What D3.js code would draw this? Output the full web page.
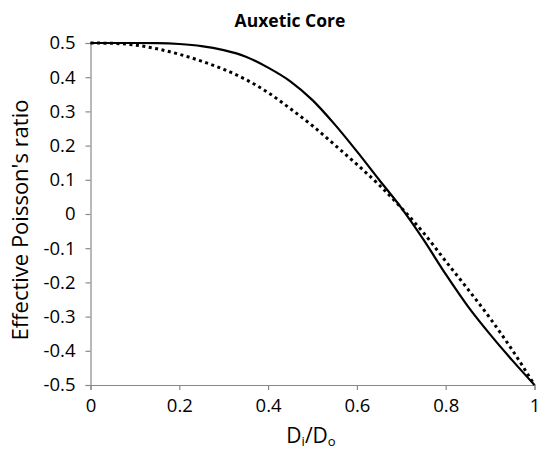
<!DOCTYPE html>
<html>
<head>
<meta charset="utf-8">
<script src="https://cdn.jsdelivr.net/npm/d3@7"></script>
<style>
  html, body { margin: 0; padding: 0; background: #fff; }
  svg { display: block; }
  text { font-family: "Open Sans", "Noto Sans", sans-serif; fill: #000; }
</style>
</head>
<body>
<svg id="chart" width="540" height="449"></svg>
<script>
// Diameter ratio Di/Do
const ratio = [0, 0.05, 0.1, 0.15, 0.2, 0.25, 0.3, 0.35, 0.4, 0.45, 0.5,
               0.55, 0.6, 0.65, 0.7, 0.75, 0.8, 0.85, 0.9, 0.95, 1.0];
// Effective Poisson's ratio, solid curve
const solidNu = [0.5, 0.5, 0.5, 0.4995, 0.497, 0.491, 0.479, 0.46, 0.428, 0.388, 0.333,
                 0.262, 0.183, 0.1, 0.018, -0.075, -0.176, -0.27, -0.352, -0.428, -0.5];
// Effective Poisson's ratio, dotted curve
const dottedNu = [0.5, 0.499, 0.494, 0.483, 0.467, 0.447, 0.423, 0.393, 0.355, 0.308, 0.258,
                  0.202, 0.145, 0.085, 0.018, -0.055, -0.138, -0.22, -0.305, -0.398, -0.5];
const xTicks = [0, 0.2, 0.4, 0.6, 0.8, 1];
const yTicks = [0.5, 0.4, 0.3, 0.2, 0.1, 0, -0.1, -0.2, -0.3, -0.4, -0.5];

const svg = d3.select("#chart");
const axisColor = "#8a8a8a";

const x = d3.scaleLinear().domain([0, 1]).range([90.5, 534.5]);
const y = d3.scaleLinear().domain([-0.5, 0.5]).range([385, 43]);

// Tick labels use a plain hyphen for negatives
const fmt = d => (d === 0 || d === 1) ? String(d) : d.toFixed(1);

// Title
svg.append("text")
  .attr("x", 290).attr("y", 27)
  .attr("text-anchor", "middle")
  .attr("font-size", 17.5).attr("font-weight", "bold")
  .text("Auxetic Core");

// Y axis
const yAxis = svg.append("g")
  .attr("transform", `translate(${x(0)},0)`)
  .call(d3.axisLeft(y).tickValues(yTicks).tickSize(5).tickPadding(10).tickFormat(fmt));

// X axis
const xAxis = svg.append("g")
  .attr("transform", `translate(0,${y(-0.5)})`)
  .call(d3.axisBottom(x).tickValues(xTicks).tickSize(5).tickPadding(9).tickFormat(fmt));

[yAxis, xAxis].forEach(g => {
  g.select(".domain").attr("stroke", axisColor).attr("stroke-width", 1.2);
  g.selectAll(".tick line").attr("stroke", axisColor).attr("stroke-width", 1.2);
  g.selectAll(".tick text")
    .attr("fill", "#000")
    .attr("font-size", 18.5)
    .style("font-family", "'Open Sans', sans-serif");
});

// Axis titles
svg.append("text")
  .attr("transform", "translate(28,220) rotate(-90)")
  .attr("text-anchor", "middle")
  .attr("font-size", 22)
  .text("Effective Poisson's ratio");

const xTitle = svg.append("text")
  .attr("x", 311).attr("y", 443)
  .attr("text-anchor", "middle")
  .attr("font-size", 21);
xTitle.append("tspan").text("D");
xTitle.append("tspan").attr("font-size", 13).attr("dy", 3).text("i");
xTitle.append("tspan").attr("dy", -3).text("/D");
xTitle.append("tspan").attr("font-size", 13).attr("dy", 3).text("o");

// Curves
const line = d3.line().curve(d3.curveMonotoneX);

svg.append("path")
  .datum(ratio.map((r, i) => [x(r), y(dottedNu[i])]))
  .attr("d", line)
  .attr("fill", "none").attr("stroke", "#000")
  .attr("stroke-width", 3)
  .attr("stroke-dasharray", "3,3.5");

svg.append("path")
  .datum(ratio.map((r, i) => [x(r), y(solidNu[i])]))
  .attr("d", line)
  .attr("fill", "none").attr("stroke", "#000")
  .attr("stroke-width", 2.2);
</script>
</body>
</html>
